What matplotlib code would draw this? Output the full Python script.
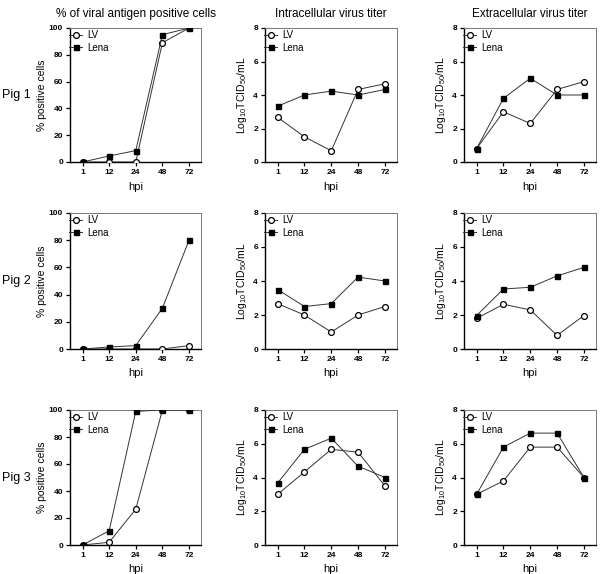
import numpy as np
import matplotlib
matplotlib.use("Agg")
import matplotlib.pyplot as plt

plt.rcParams['font.family'] = ['Liberation Sans', 'DejaVu Sans']
plt.rcParams['mathtext.default'] = 'regular'

hpi = ["1", "12", "24", "48", "72"]

# % of viral antigen positive cells
pos_lv_pig1 = [0, 0, 0, 89, 100]
pos_lena_pig1 = [0, 4.5, 8.5, 95, 100]
pos_lv_pig2 = [0, 0, 0, 0, 2.5]
pos_lena_pig2 = [0, 1.5, 2.5, 30, 80]
pos_lv_pig3 = [0, 2, 26.5, 100, 100]
pos_lena_pig3 = [0, 10.5, 99, 100, 100]

# intracellular virus titer
intra_lv_pig1 = [2.67, 1.5, 0.67, 4.33, 4.67]
intra_lena_pig1 = [3.33, 4.0, 4.23, 4.0, 4.33]
intra_lv_pig2 = [2.67, 2.0, 1.0, 2.0, 2.5]
intra_lena_pig2 = [3.5, 2.5, 2.67, 4.23, 4.0]
intra_lv_pig3 = [3.0, 4.33, 5.67, 5.5, 3.5]
intra_lena_pig3 = [3.67, 5.67, 6.33, 4.67, 4.0]

# extracellular virus titer
extra_lv_pig1 = [0.8, 3.0, 2.3, 4.33, 4.8]
extra_lena_pig1 = [0.8, 3.8, 5.0, 4.0, 4.0]
extra_lv_pig2 = [1.8, 2.63, 2.3, 0.8, 1.97]
extra_lena_pig2 = [1.97, 3.53, 3.63, 4.3, 4.8]
extra_lv_pig3 = [3.0, 3.8, 5.8, 5.8, 4.0]
extra_lena_pig3 = [3.0, 5.8, 6.63, 6.63, 4.0]

panels = [
    [(pos_lv_pig1, pos_lena_pig1), (intra_lv_pig1, intra_lena_pig1), (extra_lv_pig1, extra_lena_pig1)],
    [(pos_lv_pig2, pos_lena_pig2), (intra_lv_pig2, intra_lena_pig2), (extra_lv_pig2, extra_lena_pig2)],
    [(pos_lv_pig3, pos_lena_pig3), (intra_lv_pig3, intra_lena_pig3), (extra_lv_pig3, extra_lena_pig3)],
]
col_titles = ["% of viral antigen positive cells", "Intracellular virus titer", "Extracellular virus titer"]
row_names = ["Pig 1", "Pig 2", "Pig 3"]

fig = plt.figure(figsize=(6.0, 5.74), dpi=100)

# panel edges in pixels
lefts = [70, 265, 464]
rights = [201, 397, 596]
tops = [28, 213, 410]
bottoms = [162, 349, 545]
W, H = 600.0, 574.0

x = np.arange(len(hpi))
for r in range(3):
    for c in range(3):
        ax = fig.add_axes([lefts[c] / W, 1 - bottoms[r] / H,
                           (rights[c] - lefts[c]) / W, (bottoms[r] - tops[r]) / H])
        lv, lena = panels[r][c]
        ax.plot(x, lv, color='#333333', lw=0.7, marker='o', ms=4.2,
                mfc='white', mec='black', mew=0.9, label='LV', zorder=3)
        ax.plot(x, lena, color='#333333', lw=0.7, marker='s', ms=3.6,
                mfc='black', mec='black', label='Lena', zorder=3)
        ax.set_xlim(-0.47, 4.45)
        ax.set_xticks(x)
        ax.set_xticklabels(hpi)
        if c == 0:
            ax.set_ylim(0, 100)
            ax.set_yticks([0, 20, 40, 60, 80, 100])
            ax.set_ylabel('% positive cells', fontsize=7.5, labelpad=1)
        else:
            ax.set_ylim(0, 8)
            ax.set_yticks([0, 2, 4, 6, 8])
            ax.set_ylabel(r'Log$_{10}$TCID$_{50}$/mL', fontsize=7.5, labelpad=3)
        ax.set_xlabel('hpi', fontsize=8, labelpad=4)
        for lab in ax.get_xticklabels() + ax.get_yticklabels():
            lab.set_fontweight('bold')
            lab.set_fontsize(6)
        ax.tick_params(direction='out', length=3, width=0.9, pad=2)
        ax.spines['left'].set_linewidth(1.0)
        ax.spines['bottom'].set_linewidth(1.0)
        for s in ['top', 'right']:
            ax.spines[s].set_color('#777777')
            ax.spines[s].set_linewidth(0.7)
        ax.legend(loc='upper left', frameon=False, fontsize=7, handlelength=1.3,
                  handletextpad=0.5, borderaxespad=0.1, borderpad=0.1,
                  labelspacing=0.3, bbox_to_anchor=(-0.02, 1.0))
        if r == 0:
            ax.set_title(col_titles[c], fontsize=8.5, pad=8)
    fig.text(2 / W, 1 - (tops[r] + bottoms[r]) / 2 / H, row_names[r],
             fontsize=9, va='center', ha='left')

fig.savefig('out.png', dpi=100)
